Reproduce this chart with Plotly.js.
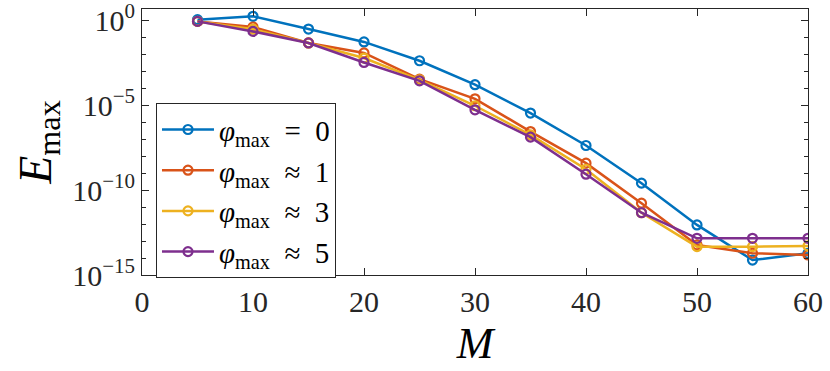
<!DOCTYPE html>
<html>
<head>
<meta charset="utf-8">
<script src="https://cdn.plot.ly/plotly-3.0.1.min.js"></script>
<style>
  body { margin: 0; background: #fff; }
  #chart { width: 830px; height: 371px; }
</style>
</head>
<body>
<div id="chart"></div>
<script>
// data (log10 of E_max)
var M_vals = [5, 10, 15, 20, 25, 30, 35, 40, 45, 50, 55, 60];
var log_phi0 = [0.04, 0.24, -0.51, -1.27, -2.38, -3.79, -5.46, -7.37, -9.59, -12.05, -14.12, -13.72];
var log_phi1 = [-0.06, -0.39, -1.33, -1.92, -3.46, -4.62, -6.55, -8.41, -10.77, -13.23, -13.72, -13.82];
var log_phi3 = [-0.06, -0.52, -1.33, -2.22, -3.50, -5.03, -6.75, -8.77, -11.33, -13.33, -13.33, -13.29];
var log_phi5 = [-0.06, -0.65, -1.33, -2.48, -3.56, -5.27, -6.88, -9.06, -11.33, -12.84, -12.84, -12.84];
var names = ["<i>φ</i><sub>max</sub>  =  0", "<i>φ</i><sub>max</sub>  ≈  1", "<i>φ</i><sub>max</sub>  ≈  3", "<i>φ</i><sub>max</sub>  ≈  5"];
var colors = ["#0072BD", "#D95319", "#EDB120", "#7E2F8E"];
var y_tickvals = [1e-15, 1e-10, 1e-5, 1];
var y_ticktext = ["10<sup>−15</sup>", "10<sup>−10</sup>", "10<sup>−5</sup>", "10<sup>0</sup>"];
var x_tickvals = [0, 10, 20, 30, 40, 50, 60];

var font = "Liberation Serif";

function toVal(arr) {
  return arr.map(function (v) { return Math.pow(10, v); });
}

var series = [log_phi0, log_phi1, log_phi3, log_phi5];
var traces = series.map(function (s, i) {
  return {
    x: M_vals,
    y: toVal(s),
    mode: "lines+markers",
    name: names[i],
    line: {color: colors[i], width: 2.5},
    marker: {symbol: "circle-open", size: 9, color: colors[i], line: {width: 2.2, color: colors[i]}}
  };
});

var layout = {
  width: 830,
  height: 371,
  margin: {l: 142, r: 22, t: 9, b: 96},
  paper_bgcolor: "#fff",
  plot_bgcolor: "#fff",
  font: {family: font, color: "#262626", size: 30},
  showlegend: true,
  legend: {
    x: 0.021, y: 0.646, xanchor: "left", yanchor: "top",
    bgcolor: "#fff", bordercolor: "#262626", borderwidth: 1,
    font: {family: font, size: 29, color: "#000"},
    itemwidth: 52,
    tracegroupgap: 0
  },
  xaxis: {
    range: [0, 60],
    tickvals: x_tickvals,
    ticks: "inside", ticklen: 7, tickwidth: 1, tickcolor: "#262626",
    showline: true, linecolor: "#262626", linewidth: 1, mirror: "ticks",
    showgrid: false, zeroline: false,
    ticklabeloverflow: "allow",
    tickfont: {size: 30, family: font, color: "#262626"},
    title: {text: "<i>M</i>", font: {size: 44, family: font, color: "#000"}, standoff: 10}
  },
  yaxis: {
    type: "log",
    range: [-15, 0.67],
    tickvals: y_tickvals,
    ticktext: y_ticktext,
    ticks: "inside", ticklen: 7, tickwidth: 1, tickcolor: "#262626",
    minor: {dtick: 1, ticks: "inside", ticklen: 4, tickcolor: "#262626", showgrid: false},
    showline: true, linecolor: "#262626", linewidth: 1, mirror: "ticks",
    showgrid: false, zeroline: false,
    ticklabeloverflow: "allow",
    tickfont: {size: 30, family: font, color: "#262626"},
    title: {text: "<i>E</i><sub>max</sub>", font: {size: 46, family: font, color: "#000"}, standoff: 6}
  }
};

Plotly.newPlot("chart", traces, layout, {displayModeBar: false, staticPlot: true});
</script>
</body>
</html>
